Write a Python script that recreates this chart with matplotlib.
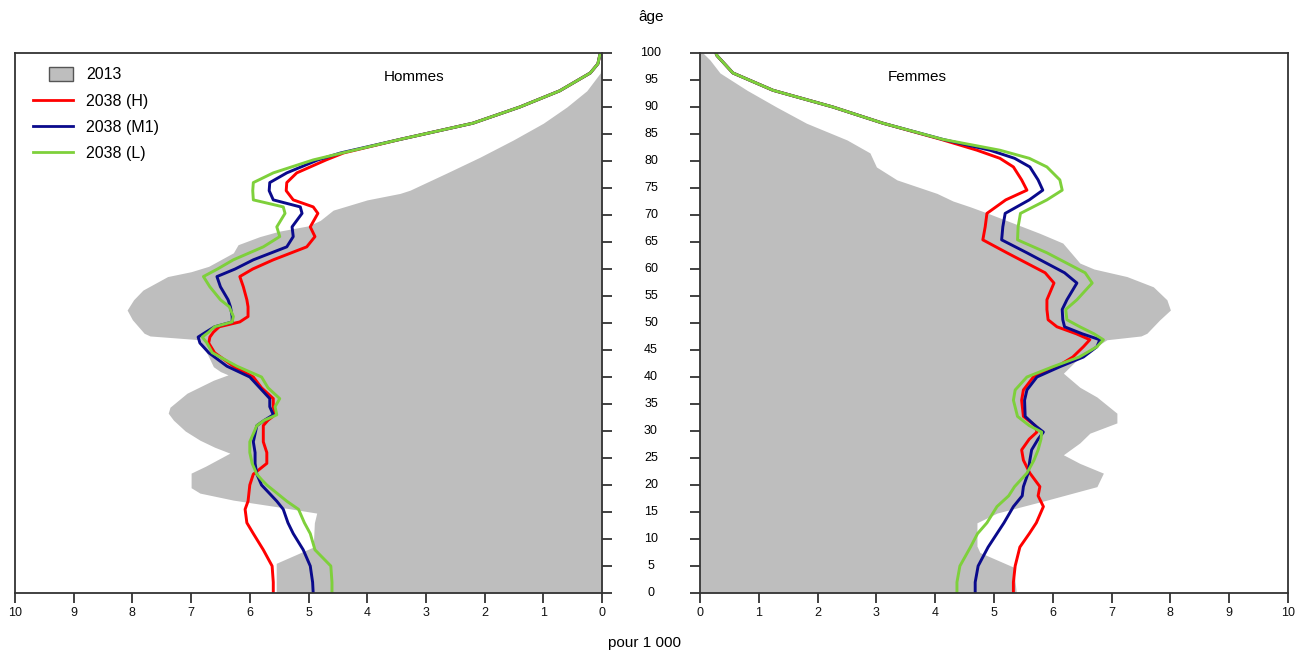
import matplotlib.pyplot as plt
import matplotlib.transforms as mtransforms
from matplotlib.patches import Rectangle
from matplotlib.lines import Line2D
from matplotlib.legend_handler import HandlerPatch

plt.rcParams['font.family'] = ['Liberation Sans', 'DejaVu Sans']

# 2013 pyramid (pour 1 000)
men_2013_age = [0, 5.5, 8.5, 13, 14.8, 16, 17.2, 18.5, 19.5, 22.2, 23.5, 25.9, 27, 28.3, 30,
                32, 33.3, 34.4, 37, 39.4, 40.4, 41, 41.9, 44.4, 46.9, 47.6, 48.1, 50.6, 52.4,
                54.3, 56.1, 58.6, 59.5, 60.5, 63, 64.5, 66, 67, 68, 69, 70.9, 72.8, 74, 74.6,
                77.8, 80.7, 83.9, 87, 90, 93, 96.3, 100]
men_2013 = [5.55, 5.55, 4.92, 4.9, 4.86, 5.55, 6.28, 6.85, 7.0, 7.0, 6.75, 6.34, 6.6, 6.85, 7.1,
            7.3, 7.39, 7.36, 7.07, 6.62, 6.37, 6.5, 6.62, 6.73, 6.85, 7.7, 7.8, 8.0, 8.09,
            7.98, 7.82, 7.4, 7.0, 6.7, 6.28, 6.2, 5.83, 5.5, 5.0, 4.8, 4.58, 4.0, 3.44, 3.27,
            2.64, 2.08, 1.51, 1.0, 0.6, 0.26, 0.03, 0.0]

women_2013_age = [0, 4.8, 7.5, 8.7, 13, 14.8, 17.2, 19.7, 22.2, 24, 25.6, 27.8, 29.6, 31.5,
                  33.3, 36.3, 38.1, 40.7, 43.7, 46.9, 47.6, 48.1, 50.6, 52.4, 54.3, 56.7, 58.6,
                  60, 61.1, 64.8, 66.6, 70.3, 71.5, 72.6, 74, 76.5, 78.9, 81.5, 83.9, 87, 90,
                  93.1, 96.3, 98.7, 100]
women_2013 = [5.38, 5.33, 4.76, 4.71, 4.71, 5.05, 5.9, 6.75, 6.86, 6.46, 6.18, 6.46, 6.63, 7.09,
              7.09, 6.75, 6.46, 6.18, 6.46, 6.92, 7.5, 7.6, 7.82, 8.0, 7.94, 7.71, 7.26,
              6.7, 6.46, 6.17, 5.78, 4.9, 4.6, 4.3, 4.03, 3.35, 3.0, 2.89, 2.5, 1.81, 1.3,
              0.8, 0.34, 0.17, 0.05]

# 2038 projections, hommes
men_age = [0, 2, 5, 8, 11, 13, 15.5, 17, 20, 21, 22, 24, 26, 28, 30, 31, 32, 33, 34.5, 36, 38,
           40, 42, 44.5, 46.3, 47.4, 48.3, 49.3, 50.2, 51.2, 53, 54.3, 56.7, 58.6, 60, 61.7,
           64.1, 66, 67.8, 70.3, 71.5, 72.8, 74.5, 76, 77.8, 80.2, 81.5, 84, 87, 90, 93, 96.3,
           98, 100]
men_h = [5.6, 5.6, 5.62, 5.77, 5.94, 6.05, 6.08, 6.03, 6.0, 5.97, 5.94, 5.71, 5.71, 5.77, 5.77,
         5.77, 5.69, 5.57, 5.6, 5.6, 5.8, 5.94, 6.28, 6.6, 6.7, 6.68, 6.62, 6.52, 6.17, 6.03,
         6.03, 6.05, 6.11, 6.17, 5.95, 5.6, 5.03, 4.89, 4.97, 4.84, 4.92, 5.26, 5.38, 5.37,
         5.2, 4.7, 4.4, 3.44, 2.2, 1.4, 0.72, 0.2, 0.07, 0.03]
men_m1 = [4.92, 4.93, 4.97, 5.09, 5.26, 5.35, 5.43, 5.54, 5.8, 5.84, 5.88, 5.91, 5.91, 5.94,
          5.9, 5.88, 5.75, 5.6, 5.66, 5.66, 5.83, 6.0, 6.39, 6.7, 6.85, 6.88, 6.75, 6.6, 6.3,
          6.3, 6.33, 6.37, 6.5, 6.56, 6.25, 5.94, 5.37, 5.26, 5.28, 5.11, 5.14, 5.6, 5.67,
          5.66, 5.37, 4.84, 4.45, 3.44, 2.2, 1.4, 0.72, 0.2, 0.07, 0.03]
men_l = [4.6, 4.6, 4.62, 4.89, 4.97, 5.07, 5.17, 5.37, 5.71, 5.8, 5.88, 5.96, 6.0, 6.0, 5.92,
         5.88, 5.75, 5.54, 5.57, 5.49, 5.69, 5.8, 6.22, 6.64, 6.73, 6.81, 6.7, 6.6, 6.3, 6.28,
         6.35, 6.5, 6.68, 6.79, 6.55, 6.28, 5.77, 5.49, 5.54, 5.4, 5.43, 5.94, 5.95, 5.94,
         5.6, 4.92, 4.42, 3.44, 2.2, 1.4, 0.72, 0.2, 0.07, 0.03]

# 2038 projections, femmes
women_age = [0, 2, 5, 8.5, 11, 13, 16, 18, 19.7, 22.2, 24.6, 26.5, 28.5, 29.8, 31, 32.7, 35.7,
             37.6, 40, 41.9, 43.7, 45.6, 46.9, 48, 49.3, 50.6, 52.5, 54.3, 57.4, 59.3, 63,
             65.4, 67.8, 70.3, 72.8, 74.6, 76.5, 78.9, 80.5, 82, 84, 87, 90, 93.1, 96.3, 99.5,
             100]
women_h = [5.33, 5.33, 5.36, 5.44, 5.6, 5.72, 5.84, 5.75, 5.78, 5.61, 5.5, 5.47, 5.6, 5.73,
           5.7, 5.5, 5.47, 5.5, 5.67, 6.07, 6.34, 6.52, 6.63, 6.4, 6.07, 5.92, 5.9, 5.9, 6.02,
           5.87, 5.22, 4.81, 4.85, 4.88, 5.2, 5.56, 5.47, 5.33, 5.1, 4.71, 4.1, 3.11, 2.26,
           1.24, 0.56, 0.29, 0.27]
women_m1 = [4.68, 4.68, 4.73, 4.9, 5.05, 5.17, 5.33, 5.48, 5.5, 5.58, 5.61, 5.64, 5.75, 5.84,
            5.7, 5.53, 5.52, 5.56, 5.73, 6.12, 6.52, 6.75, 6.8, 6.5, 6.2, 6.17, 6.16, 6.24,
            6.41, 6.2, 5.56, 5.13, 5.15, 5.19, 5.6, 5.83, 5.75, 5.61, 5.35, 4.93, 4.13, 3.11,
            2.26, 1.24, 0.56, 0.29, 0.27]
women_l = [4.37, 4.37, 4.42, 4.6, 4.72, 4.88, 5.05, 5.25, 5.35, 5.56, 5.68, 5.75, 5.8, 5.81,
           5.6, 5.4, 5.33, 5.36, 5.56, 6.0, 6.45, 6.75, 6.86, 6.7, 6.46, 6.24, 6.22, 6.41,
           6.67, 6.55, 5.9, 5.4, 5.41, 5.45, 5.9, 6.16, 6.12, 5.9, 5.6, 5.1, 4.13, 3.11, 2.26,
           1.24, 0.56, 0.29, 0.27]

series_labels = ['2038 (H)', '2038 (M1)', '2038 (L)']
series_colors = ['#ff0000', '#0a0a8c', '#7ed03b']
gray = '#bebebe'
age_ticks = list(range(0, 101, 5))

W, H = 1303, 653
fig = plt.figure(figsize=(W / 100, H / 100), dpi=100)
axL = fig.add_axes([15 / W, 1 - 593 / H, 587 / W, 540 / H])
axR = fig.add_axes([700 / W, 1 - 593 / H, 588 / W, 540 / H])

axL.fill_betweenx(men_2013_age, 0, men_2013, color=gray, lw=0)
for vals, c in zip([men_h, men_m1, men_l], series_colors):
    axL.plot(vals, men_age, color=c, lw=2.1)
axR.fill_betweenx(women_2013_age, 0, women_2013, color=gray, lw=0)
for vals, c in zip([women_h, women_m1, women_l], series_colors):
    axR.plot(vals, women_age, color=c, lw=2.1)

axL.set_xlim(10, 0)
axR.set_xlim(0, 10)
for ax in (axL, axR):
    ax.set_ylim(0, 100)
    ax.set_xticks(range(0, 11))
    ax.set_yticks(age_ticks)
    ax.set_yticklabels([])
    ax.tick_params(direction='out', length=7, width=1.3, labelsize=9, pad=3,
                   colors='#333333', labelcolor='#111111')
    for s in ax.spines.values():
        s.set_linewidth(1.3)
        s.set_color('#333333')
axL.yaxis.tick_right()
axR.yaxis.tick_left()

axL.text(0.68, 0.955, 'Hommes', transform=axL.transAxes, ha='center', va='center', fontsize=11)
axR.text(0.37, 0.955, 'Femmes', transform=axR.transAxes, ha='center', va='center', fontsize=11)

trans = mtransforms.blended_transform_factory(fig.transFigure, axL.transData)
for a in age_ticks:
    axL.text(651 / W, a, str(a), transform=trans, ha='center', va='center',
             fontsize=9, clip_on=False)
fig.text(651 / W, 1 - 17 / H, 'âge', ha='center', va='center', fontsize=11)
fig.text(645 / W, 1 - 643 / H, 'pour 1 000', ha='center', va='center', fontsize=11)


def small_box(legend, orig_handle, xdescent, ydescent, width, height, fontsize):
    return Rectangle((-xdescent + width * 0.4, -ydescent - height * 0.15), width * 0.6, height * 1.3)


handles = [Rectangle((0, 0), 1, 1, facecolor=gray, edgecolor='#555555', lw=1)]
handles += [Line2D([], [], color=c, lw=2) for c in series_colors]
axL.legend(handles, ['2013'] + series_labels, loc='upper left', bbox_to_anchor=(0.02, 0.985),
           frameon=False, fontsize=11.5, handlelength=2.5, handletextpad=0.8,
           labelspacing=0.7, borderaxespad=0,
           handler_map={Rectangle: HandlerPatch(patch_func=small_box)})

fig.savefig('out.png', dpi=100)
